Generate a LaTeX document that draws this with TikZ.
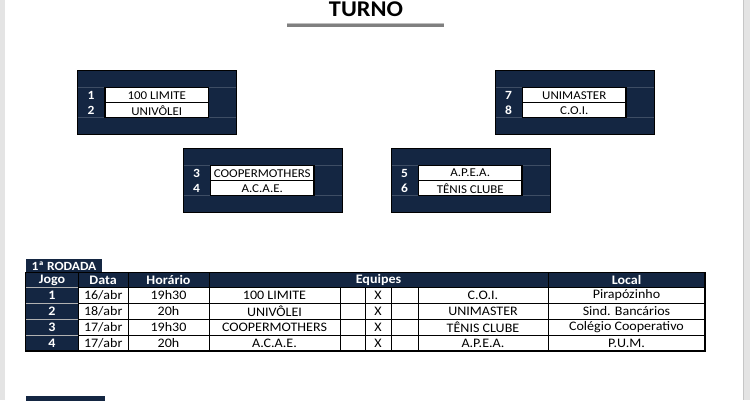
\documentclass[tikz,border=0pt]{standalone}
\usepackage{fontspec}
\setmainfont{Carlito}[FakeStretch=1.08]
\usetikzlibrary{positioning}
\definecolor{navy}{RGB}{20,38,66}
\definecolor{pagegray}{RGB}{228,228,228}

\begin{document}
\begin{tikzpicture}[x=1pt, y=-1pt, font=\fontsize{12}{14}\selectfont,
	cell/.style={draw=black, line width=0.8pt, fill=white},
	dark/.style={draw=black, line width=0.8pt, fill=navy},
	num/.style={text=white, font=\fontsize{12.5}{14}\selectfont\bfseries},
	tab/.style={font=\fontsize{13}{14}\selectfont}]
	\fill[pagegray] (0,0) rectangle (750,400);
	\fill[white] (4.5,0) rectangle (743.5,400);
	\draw[gray!45] (743.5,0) -- (743.5,400);
	\useasboundingbox (0,0) rectangle (750,400);
	\node[font=\fontsize{22.5}{24}\selectfont\bfseries] (titulo) at (366,9.3) {TURNO};
	\fill[gray] (287.3,22.5) rectangle (444,26.5);
	\draw[gray!50] (287.3,22.8) -- (444,22.8);
	% grupos
	\foreach \l/\t/\a/\b/\ta/\tb in {77.5/70/1/2/100 LIMITE/UNIVÔLEI, 495/70/7/8/UNIMASTER/C.O.I.,
	  183/148/3/4/COOPERMOTHERS/A.C.A.E., 391/148/5/6/A.P.E.A./TÊNIS CLUBE}{
	  \fill[navy] (\l,\t) rectangle ++(159,64);
	  \draw[navy!82!white, line width=0.4pt] ({\l},{\t+17}) -- ++(159,0) ({\l},{\t+47.5}) -- ++(159,0);
	  \draw[line width=1pt] (\l,\t) rectangle ++(159,64);
	  \draw[cell] ({\l+27.5},{\t+17.3}) rectangle ++(103.5,15.2);
	  \draw[cell] ({\l+27.5},{\t+32.5}) rectangle ++(103.5,15);
	  \draw[line width=1.5pt] ({\l+27.5},{\t+17.3}) rectangle ++(103.5,30.2);
	  \node[num] (n\a) at ({\l+13.5},{\t+25}) {\a};
	  \node[num] (n\b) at ({\l+13.5},{\t+40}) {\b};
	  \node (t\a) at ({\l+79.25},{\t+25}) {\ta};
	  \node (t\b) at ({\l+79.25},{\t+40}) {\tb};
	}
	% 1a rodada
	\fill[navy] (25.7,259) rectangle (102,272.3);
	\node[num, anchor=west, font=\fontsize{12.5}{14}\selectfont\bfseries] (rodada1) at (28,266) {1ª RODADA};
	\foreach \a/\b/\h [count=\i] in {25.7/78.3/Jogo, 78.3/128/Data, 128/209/Horário, 209/548/Equipes, 548/705/Local}{
	  \draw[dark] (\a,272.3) rectangle (\b,287.3);
	  \node[num, font=\fontsize{13}{14}\selectfont\bfseries] (h\i) at ({(\a+\b)/2},280) {\h};
	}
	\foreach \dd/\hr/\ta/\tb/\lo [count=\i] in {16/19h30/100 LIMITE/C.O.I./Pirapózinho,
	  18/20h/UNIVÔLEI/UNIMASTER/Sind. Bancários, 17/19h30/COOPERMOTHERS/TÊNIS CLUBE/Colégio Cooperativo,
	  17/20h/A.C.A.E./A.P.E.A./P.U.M.}{
	  \pgfmathsetmacro\y{287.3+(\i-1)*15.85}
	  \pgfmathsetmacro\yb{\y+15.85}
	  \pgfmathsetmacro\ym{\y+8}
	  \draw[fill=navy, draw=gray!60, line width=0.5pt] (25.7,\y) rectangle (78.3,\yb);
	  \foreach \a/\b in {78.3/128, 128/209, 209/340, 340/365, 365/391, 391/418, 418/548, 548/705}
	    \draw[cell] (\a,\y) rectangle (\b,\yb);
	  \node[num, font=\fontsize{13}{14}\selectfont\bfseries] (j\i) at (52,\ym) {\i};
	  \node[tab] (d\i) at (103.2,\ym) {\dd/abr};
	  \node[tab] (hr\i) at (168.5,\ym) {\hr};
	  \node[tab] (ea\i) at (274.5,\ym) {\ta};
	  \node[tab] (x\i) at (378,\ym) {X};
	  \node[tab] (eb\i) at (483,\ym) {\tb};
	  \node[tab] (lc\i) at (626.5,\ym) {\lo};
	}
	\draw[line width=1.5pt] (25.7,272.3) rectangle (705,350.7);
	\fill[navy] (25.7,395.7) rectangle (105,401);
\end{tikzpicture}
\end{document}
